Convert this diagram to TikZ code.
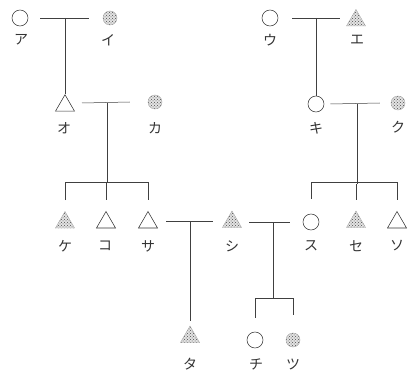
\documentclass[tikz,border=0pt]{standalone}
\usepackage{fontspec}
\newfontfamily\jp{Noto Sans CJK JP}
\usetikzlibrary{shapes.geometric,patterns}
\begin{document}
\begin{tikzpicture}[x=1pt,y=-1pt,
  fem/.style={circle,draw=black!80,line width=0.55pt,minimum size=16pt,inner sep=0pt},
  femS/.style={circle,draw=gray!70,line width=0.4pt,minimum size=14pt,inner sep=0pt,
    preaction={fill=gray!22},pattern=crosshatch dots,pattern color=black!70},
  mal/.style={regular polygon,regular polygon sides=3,draw=black!80,line width=0.55pt,
    minimum size=22pt,inner sep=0pt},
  malS/.style={regular polygon,regular polygon sides=3,draw=gray!70,line width=0.4pt,
    minimum size=22pt,inner sep=0pt,preaction={fill=gray!22},pattern=crosshatch dots,pattern color=black!70},
  lab/.style={font=\jp\fontsize{14}{14}\selectfont,text=black!80,inner sep=0pt},
  ln/.style={draw=black!75,line width=0.5pt}]
\useasboundingbox (0,0) rectangle (409,377);
% row 1
\node[fem] (A) at (20,18) {};
\node[femS] (I) at (110,18) {};
\node[fem] (U) at (270,18) {};
\node[malS] (E) at (356,20.5) {};
% row 2
\node[mal] (O) at (65,105.7) {};
\node[femS] (Ka) at (155,102) {};
\node[fem] (Ki) at (316,104) {};
\node[femS] (Ku) at (398,103) {};
% row 3
\node[malS] (Ke) at (65,222.5) {};
\node[mal] (Ko) at (106,222.5) {};
\node[mal] (Sa) at (148,222.5) {};
\node[malS] (Shi) at (232,222) {};
\node[fem] (Su) at (311,222) {};
\node[malS] (Se) at (356,222) {};
\node[mal] (So) at (397,222.5) {};
% row 4
\node[malS] (Ta) at (190,337) {};
\node[fem] (Chi) at (255,340) {};
\node[femS] (Tsu) at (293,340) {};
% labels
\node[lab] (lA) at (21,40) {ア};
\node[lab] (lI) at (108,40) {イ};
\node[lab] (lU) at (270,40) {ウ};
\node[lab] (lE) at (357,40) {エ};
\node[lab] (lO) at (64,128) {オ};
\node[lab] (lKa) at (155,128) {カ};
\node[lab] (lKi) at (316,128) {キ};
\node[lab] (lKu) at (398,127) {ク};
\node[lab] (lKe) at (65,246) {ケ};
\node[lab] (lKo) at (105,246) {コ};
\node[lab] (lSa) at (148,246) {サ};
\node[lab] (lShi) at (232,246) {シ};
\node[lab] (lSu) at (311,246) {ス};
\node[lab] (lSe) at (356,246) {セ};
\node[lab] (lSo) at (397,246) {ソ};
\node[lab] (lTa) at (190,364) {タ};
\node[lab] (lChi) at (256,364) {チ};
\node[lab] (lTsu) at (293,364) {ツ};
% marriage mid points
\coordinate (m1) at (65,18);
\coordinate (m2) at (316,18);
\coordinate (m3) at (107,103);
\coordinate (m4) at (357,104);
\coordinate (m5) at (190,221);
\coordinate (m6) at (273,222);
% marriages
\draw[ln] ([xshift=12pt]A.east) -- ([xshift=-14pt]I.west);
\draw[ln] ([xshift=14pt]U.east) -- ([xshift=-16pt,yshift=2.5pt]E.center);
\draw[ln] ([xshift=17pt,yshift=2.7pt]O.center) -- ([xshift=-18pt]Ka.west);
\draw[ln] ([xshift=6pt]Ki.east) -- ([xshift=-11pt]Ku.west);
\draw[ln] ([xshift=18pt,yshift=1.5pt]Sa.center) -- ([xshift=-19pt,yshift=1pt]Shi.center);
\draw[ln] ([xshift=17pt,yshift=0pt]Shi.center) -- ([xshift=-13pt]Su.west);
% descent
\draw[ln] (m1) -- (O.north);
\draw[ln] (m2) -- (Ki.north);
\draw[ln] (m3) -- (m3 |- 0,182);
\draw[ln] ([yshift=11pt]Ke.north) -- ([yshift=29pt]Ke.north) -| ([yshift=11pt]Sa.north);
\draw[ln] ([yshift=11pt]Ko.north) -- ([yshift=29pt]Ko.north);
\draw[ln] (m4) -- (m4 |- 0,184);
\draw[ln] ([yshift=15pt]Su.north) -- ([yshift=31pt]Su.north) -| ([yshift=11pt]So.north);
\draw[ln] ([yshift=11pt]Se.north) -- ([yshift=27pt]Se.north);
\draw[ln] (m5) -- ([yshift=5pt]Ta.north);
\draw[ln] (m6) -- (m6 |- 0,299);
\draw[ln] ([yshift=14pt]Chi.north) -- ([yshift=33pt]Chi.north) -| ([yshift=18pt]Tsu.north);
\end{tikzpicture}
\end{document}
